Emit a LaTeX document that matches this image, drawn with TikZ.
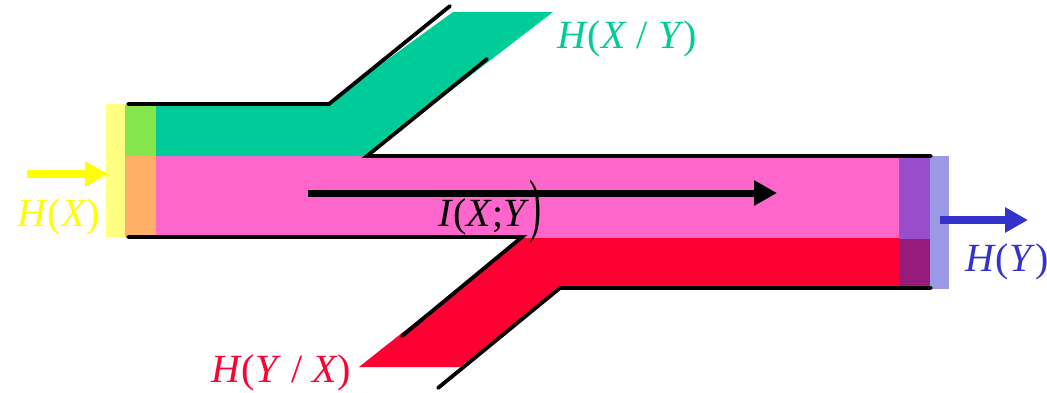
\documentclass[tikz,border=0pt]{standalone}
\usepackage{fontspec}
\setmainfont{Liberation Serif}
\usepackage{graphicx}
\usetikzlibrary{arrows.meta}
\definecolor{cyell}{HTML}{FFFF00}
\definecolor{cyellbar}{HTML}{FFFF80}
\definecolor{cgreen}{HTML}{84E64C}
\definecolor{cteal}{HTML}{00CC99}
\definecolor{corange}{HTML}{FFB066}
\definecolor{cpink}{HTML}{FF66CC}
\definecolor{cred}{HTML}{FF0033}
\definecolor{cpurple}{HTML}{9A4DCA}
\definecolor{cdmag}{HTML}{961B7B}
\definecolor{clav}{HTML}{9999E6}
\definecolor{cblue}{HTML}{3333CC}
\tikzset{
  edge/.style={line width=3.8pt, line cap=round},
  flow/.style={line width=#1, -{Triangle[length=23pt,width=24pt]}},
  lbl/.style={inner sep=0pt, anchor=base west, font=\fontsize{40}{40}\selectfont},
}
\begin{document}
\begin{tikzpicture}[x=1pt,y=-1pt]
\useasboundingbox (0,0) rectangle (1047,392);
% fills
\fill[cpink] (156,156) rectangle (900,238);
\fill[cteal] (156,105) -- (325,105) -- (453,12) -- (553,12) -- (366,156) -- (156,156) -- cycle;
\fill[cred] (522,238) -- (900,238) -- (900,288) -- (560,288) -- (460,367) -- (359,367) -- cycle;
\fill[cgreen] (125,105) rectangle (156,156);
\fill[corange] (125,156) rectangle (156,237);
\fill[cyellbar] (106,104) rectangle (125,237);
\fill[cpurple] (899,156) rectangle (931,239);
\fill[cdmag] (899,239) rectangle (930,288);
\fill[clav] (930,156) rectangle (949,289);
% black edges
\coordinate (a1) at (128,104); \coordinate (a2) at (329,104); \coordinate (a3) at (450,6);
\draw[edge] (a1) -- (a2) -- (a3);
\coordinate (b1) at (367,156); \coordinate (b2) at (487,59); \coordinate (b3) at (931,156);
\draw[edge] (b2) -- (b1) -- (b3);
\coordinate (c1) at (128,237); \coordinate (c2) at (522,237); \coordinate (c3) at (402,336);
\draw[edge] (c1) -- (c2) -- (c3);
\coordinate (d1) at (438,388); \coordinate (d2) at (560,288); \coordinate (d3) at (931,288);
\draw[edge] (d1) -- (d2) -- (d3);
% arrows
\coordinate (ys) at (27,174); \coordinate (ye) at (108,174);
\draw[flow=8.5pt, cyell] (ys) -- (ye);
\coordinate (ms) at (308,193); \coordinate (me) at (777,193);
\draw[flow=7pt, black] (ms) -- (me);
\coordinate (bs) at (940,220); \coordinate (be) at (1028,220);
\draw[flow=8pt, cblue] (bs) -- (be);
% labels
\node[lbl, text=cyell] (hx) at (17,226) {\textit{H}(\textit{X})};
\node[lbl, text=cblue] (hy) at (965,271) {\textit{H}(\textit{Y})};
\node[lbl, text=cteal] (hxy) at (557,48) {\textit{H}(\textit{X} / \textit{Y})};
\node[lbl, text=cred] (hyx) at (211,382) {\textit{H}(\textit{Y} / \textit{X})};
\node[lbl, text=black] (ixy) at (438,226) {\textit{I}(\textit{X};\textit{Y}\raisebox{-2pt}{\scalebox{0.9}[1.75]{)}}};
\end{tikzpicture}
\end{document}
